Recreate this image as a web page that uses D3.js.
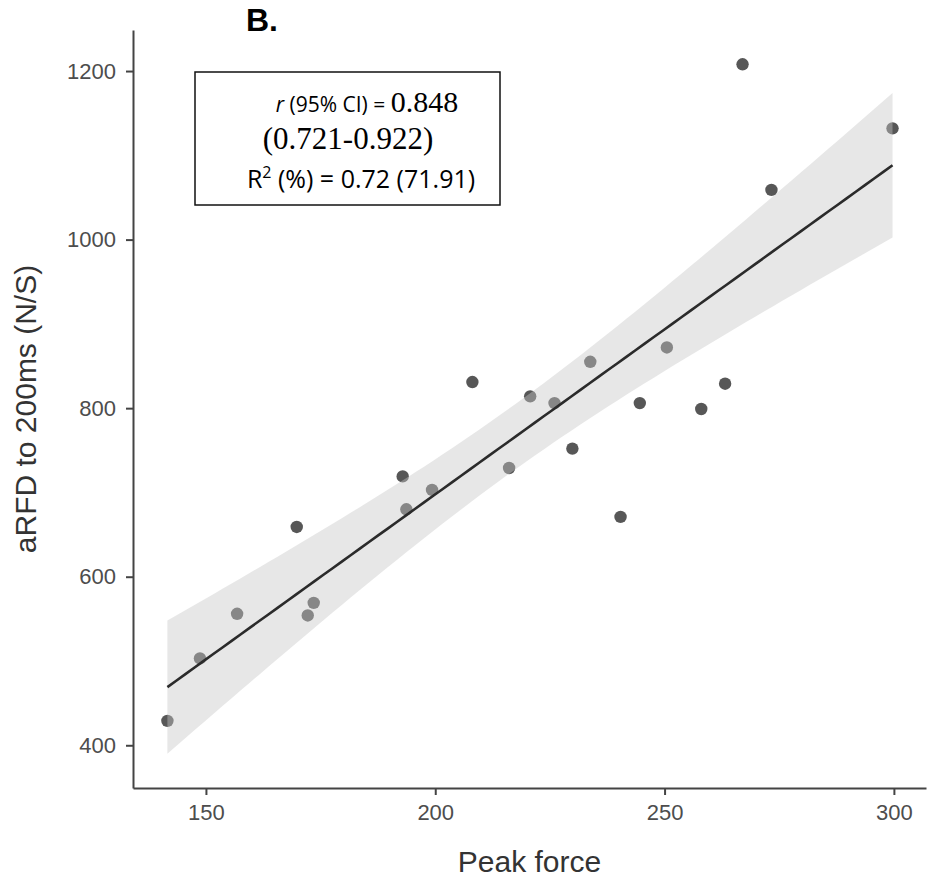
<!DOCTYPE html>
<html>
<head>
<meta charset="utf-8">
<script src="https://cdn.jsdelivr.net/npm/d3@7"></script>
<style>
  body { margin: 0; background: #fff; }
</style>
</head>
<body>
<div id="my_dataviz"></div>
<script>
// peak force (x) and aRFD to 200ms (y)
var peakForce = [141.6, 148.7, 156.8, 169.8, 172.2, 173.5, 192.9, 193.7, 199.3, 208.1, 216.1, 220.7,
  226.0, 229.9, 233.8, 240.4, 244.6, 250.5, 258.0, 263.2, 267.0, 273.3, 299.7];
var arfd = [429, 503, 556, 659, 554, 569, 719, 680, 703, 831, 729, 814,
  806, 752, 855, 671, 806, 872, 799, 829, 1208, 1059, 1132];
var xTicks = [150, 200, 250, 300];
var yTicks = [400, 600, 800, 1000, 1200];

var margin = { top: 30, right: 17, bottom: 94, left: 133 },
  width = 943 - margin.left - margin.right,
  height = 882 - margin.top - margin.bottom;

var svg = d3
  .select("#my_dataviz")
  .append("svg")
  .attr("width", 943)
  .attr("height", 882);

var g = svg
  .append("g")
  .attr("transform", "translate(" + margin.left + "," + margin.top + ")");

var x = d3.scaleLinear().domain([134.1, 307.0]).range([0, width]);
var y = d3.scaleLinear().domain([349.3, 1248.7]).range([height, 0]);

var data = peakForce.map(function(d, i) {
  return { x: d, y: arfd[i] };
});

// linear fit + 95% confidence band (like geom_smooth(method = "lm"))
var n = data.length;
var mx = d3.mean(data, function(d) { return d.x; });
var my = d3.mean(data, function(d) { return d.y; });
var sxx = d3.sum(data, function(d) { return (d.x - mx) * (d.x - mx); });
var sxy = d3.sum(data, function(d) { return (d.x - mx) * (d.y - my); });
var slope = sxy / sxx;
var icpt = my - slope * mx;
var sse = d3.sum(data, function(d) {
  var r = d.y - (icpt + slope * d.x);
  return r * r;
});
var s = Math.sqrt(sse / (n - 2));
var tq = 2.0796; // t(0.975, 21)
var xmin = d3.min(peakForce), xmax = d3.max(peakForce);
var fit = d3.range(80).map(function(i) {
  var xv = xmin + (xmax - xmin) * i / 79;
  var yv = icpt + slope * xv;
  var se = s * Math.sqrt(1 / n + (xv - mx) * (xv - mx) / sxx);
  return { x: xv, y: yv, lo: yv - tq * se, hi: yv + tq * se };
});

// points first, band drawn over them
g.selectAll("circle")
  .data(data)
  .enter()
  .append("circle")
  .attr("cx", function(d) { return x(d.x); })
  .attr("cy", function(d) { return y(d.y); })
  .attr("r", 6.2)
  .style("fill", "#575757");

var area = d3
  .area()
  .x(function(d) { return x(d.x); })
  .y0(function(d) { return y(d.lo); })
  .y1(function(d) { return y(d.hi); });

g.append("path")
  .datum(fit)
  .attr("d", area)
  .style("fill", "#c8c8c8")
  .style("opacity", 0.43);

var line = d3
  .line()
  .x(function(d) { return x(d.x); })
  .y(function(d) { return y(d.y); });

g.append("path")
  .datum(fit)
  .attr("d", line)
  .style("fill", "none")
  .style("stroke", "#2b2b2b")
  .style("stroke-width", 2.6);

// axes
var xAxis = g
  .append("g")
  .attr("transform", "translate(0," + height + ")")
  .call(d3.axisBottom(x).tickValues(xTicks).tickSize(7).tickPadding(9).tickSizeOuter(0));

var yAxis = g
  .append("g")
  .call(d3.axisLeft(y).tickValues(yTicks).tickFormat(d3.format("d")).tickSize(7).tickPadding(10).tickSizeOuter(0));

[xAxis, yAxis].forEach(function(ax) {
  ax.select(".domain").attr("stroke", "#444").attr("stroke-width", 2);
  ax.selectAll(".tick line").attr("stroke", "#444").attr("stroke-width", 2);
  ax.selectAll(".tick text")
    .style("font-family", "'Liberation Sans', Arial, sans-serif")
    .style("font-size", "22px")
    .style("fill", "#4d4d4d");
});

// axis titles
g.append("text")
  .attr("text-anchor", "middle")
  .attr("x", width / 2)
  .attr("y", height + 84)
  .style("font-family", "'Liberation Sans', Arial, sans-serif")
  .style("font-size", "30px")
  .style("fill", "#333")
  .text("Peak force");

g.append("text")
  .attr("text-anchor", "middle")
  .attr("transform", "translate(" + (-97) + "," + height / 2 + ") rotate(-90)")
  .style("font-family", "'Liberation Sans', Arial, sans-serif")
  .style("font-size", "30px")
  .style("fill", "#333")
  .text("aRFD to 200ms (N/S)");

// panel label
svg.append("text")
  .attr("x", 246)
  .attr("y", 31)
  .style("font-family", "'Liberation Sans', Arial, sans-serif")
  .style("font-weight", "bold")
  .style("font-size", "32px")
  .style("fill", "#000")
  .text("B.");

// stats box
svg.append("rect")
  .attr("x", 195)
  .attr("y", 72)
  .attr("width", 305)
  .attr("height", 133)
  .style("fill", "#fff")
  .style("stroke", "#111")
  .style("stroke-width", 1.5);

var sans = "'Open Sans', sans-serif";
var serif = "'Liberation Serif', 'Times New Roman', serif";

var t1 = svg.append("text")
  .attr("x", 367)
  .attr("y", 112)
  .attr("text-anchor", "middle")
  .style("font-family", sans)
  .style("font-size", "21px")
  .style("fill", "#000");
t1.append("tspan").style("font-style", "italic").text("r");
t1.append("tspan").text(" (95% CI) = ");
t1.append("tspan").style("font-family", serif).style("font-size", "30px").text("0.848");

svg.append("text")
  .attr("x", 348)
  .attr("y", 149)
  .attr("text-anchor", "middle")
  .style("font-family", serif)
  .style("font-size", "31px")
  .style("fill", "#000")
  .text("(0.721-0.922)");

var t3 = svg.append("text")
  .attr("x", 361)
  .attr("y", 188)
  .attr("text-anchor", "middle")
  .style("font-family", sans)
  .style("font-size", "25px")
  .style("fill", "#000");
t3.append("tspan").text("R");
t3.append("tspan").attr("dy", -10).style("font-size", "16px").text("2");
t3.append("tspan").attr("dy", 10).text(" (%) = 0.72 (71.91)");
</script>
</body>
</html>
